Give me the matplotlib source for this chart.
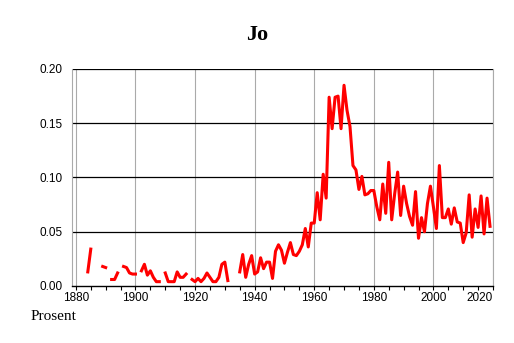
import numpy as np
import matplotlib
matplotlib.use("Agg")
import matplotlib.pyplot as plt

nan = np.nan

# share of population named "Jo" per year (percent), gaps = no data
years = list(range(1884, 2020))
values = [
    0.013, 0.034, nan, nan, nan, 0.018, 0.017, nan, 0.006, 0.006,   # 1884-1893
    0.012, nan, 0.018, 0.017, 0.012, 0.011, 0.011, nan, 0.014, 0.020,  # 1894-1903
    0.010, 0.014, 0.008, 0.004, 0.004, nan, 0.012, 0.004, 0.004, 0.004,  # 1904-1913
    0.013, 0.008, 0.008, 0.011, nan, 0.006, 0.004, 0.007, 0.004, 0.007,  # 1914-1923
    0.012, 0.008, 0.004, 0.004, 0.008, 0.020, 0.022, 0.005, nan, nan,   # 1924-1933
    nan, 0.013, 0.029, 0.008, 0.020, 0.028, 0.011, 0.013, 0.026, 0.016,  # 1934-1943
    0.022, 0.022, 0.007, 0.032, 0.038, 0.033, 0.021, 0.031, 0.040, 0.029,  # 1944-1953
    0.028, 0.032, 0.038, 0.053, 0.036, 0.058, 0.058, 0.086, 0.061, 0.103,  # 1954-1963
    0.081, 0.174, 0.145, 0.174, 0.175, 0.145, 0.185, 0.162, 0.147, 0.111,  # 1964-1973
    0.107, 0.089, 0.101, 0.084, 0.085, 0.088, 0.088, 0.073, 0.061, 0.094,  # 1974-1983
    0.067, 0.114, 0.061, 0.085, 0.105, 0.065, 0.092, 0.076, 0.064, 0.056,  # 1984-1993
    0.087, 0.044, 0.063, 0.050, 0.076, 0.092, 0.073, 0.053, 0.111, 0.063,  # 1994-2003
    0.063, 0.071, 0.057, 0.072, 0.059, 0.058, 0.040, 0.049, 0.084, 0.045,  # 2004-2013
    0.071, 0.054, 0.083, 0.048, 0.081, 0.055,                             # 2014-2019
]

title = "Jo"
ylabel = "Prosent"
xticks = list(range(1880, 2021, 20))
yticks = [0.00, 0.05, 0.10, 0.15, 0.20]

fig = plt.figure(figsize=(5.14, 3.43), dpi=100)
ax = fig.add_axes([72 / 514, 57 / 343, 421.3 / 514, 217 / 343])

ax.plot(years, values, color="#ff0000", lw=2.2, zorder=3)

ax.set_xlim(1878.7, 2020.1)
ax.set_ylim(0, 0.2)

ax.set_xticks(xticks)
ax.set_xticks(range(1880, 2021, 5), minor=True)
ax.set_yticks(yticks)
ax.set_yticklabels(["%.2f" % v for v in yticks])

for v in xticks:
    ax.axvline(v, color="#aaaaaa", lw=0.8, zorder=1)
for v in yticks[1:]:
    ax.axhline(v, color="black", lw=0.9, zorder=2)

ax.tick_params(axis="x", which="both", direction="out", length=3, width=0.8,
               color="black", pad=1)
ax.tick_params(axis="y", length=0, pad=7)
for lab in ax.get_xticklabels() + ax.get_yticklabels():
    lab.set_family("Liberation Sans")
    lab.set_fontsize(8.5)
ax.get_xticklabels()[-1].set_ha("right")

ax.spines["left"].set_color("#aaaaaa")
ax.spines["right"].set_color("#aaaaaa")
ax.spines["top"].set_visible(False)
ax.spines["bottom"].set_color("black")
ax.spines["bottom"].set_linewidth(1.0)

fig.text(0.5, 1 - 35 / 343, title, ha="center", va="center",
         family="Liberation Serif", fontweight="bold", fontsize=16)
fig.text(31 / 514, 1 - 317 / 343, ylabel, ha="left", va="center",
         family="Liberation Serif", fontsize=11)

fig.savefig("out.png", dpi=100)
